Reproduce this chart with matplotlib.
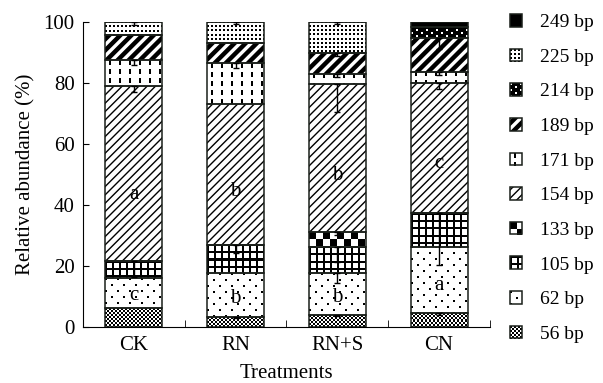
import numpy as np
import matplotlib.pyplot as plt
from matplotlib.patches import Rectangle, Patch
from matplotlib.colors import ListedColormap
from matplotlib.legend_handler import HandlerBase

plt.rcParams['font.family'] = ['Liberation Serif', 'DejaVu Serif']

treatments = ['CK', 'RN', 'RN+S', 'CN']
fragments = ['56 bp', '62 bp', '105 bp', '133 bp', '154 bp',
             '171 bp', '189 bp', '214 bp', '225 bp', '249 bp']

# relative abundance (%) per fragment, order: CK, RN, RN+S, CN
bp56 = [6.1, 3.2, 3.8, 4.3]
bp62 = [9.8, 14.3, 13.7, 21.9]
bp105 = [5.5, 9.3, 8.7, 11.0]
bp133 = [0.0, 0.0, 4.9, 0.0]
bp154 = [57.6, 46.2, 48.5, 42.7]
bp171 = [8.5, 13.4, 3.3, 3.8]
bp189 = [8.2, 6.6, 6.8, 10.9]
bp214 = [0.0, 0.0, 0.0, 3.8]
bp225 = [4.3, 7.0, 10.3, 0.0]
bp249 = [0.0, 0.0, 0.0, 1.6]
abundance = [bp56, bp62, bp105, bp133, bp154, bp171, bp189, bp214, bp225, bp249]

# error (drawn downward from top of each segment)
err56 = [0.0, 0.5, 0.5, 0.5]
err62 = [0.0, 0.0, 3.3, 0.0]
err105 = [5.0, 2.5, 5.0, 17.0]
err133 = [0.0, 0.0, 1.0, 0.0]
err154 = [2.0, 0.0, 9.0, 2.0]
err171 = [1.6, 1.6, 1.0, 1.0]
err189 = [0.0, 0.0, 1.0, 3.5]
err214 = [0.0, 0.0, 0.0, 0.0]
err225 = [1.0, 0.5, 0.5, 0.0]
err249 = [0.0, 0.0, 0.0, 0.0]
errors = [err56, err62, err105, err133, err154, err171, err189, err214, err225, err249]

letters154 = ['a', 'b', 'b', 'c']
letters62 = ['c', 'b', 'b', 'a']


# pixel tiles for the fill patterns (1 = black)
def checker(sq):
    return np.kron(np.array([[1, 0], [0, 1]]), np.ones((sq, sq), dtype=int))


dots62 = np.zeros((12, 12), dtype=int)
dots62[0:2, 0:2] = 1
dots62[6:8, 6:8] = 1

grid105 = np.zeros((7, 7), dtype=int)
grid105[0:2, :] = 1
grid105[:, 0:2] = 1

dash171 = np.zeros((9, 10), dtype=int)
dash171[0:5, 4:6] = 1

dots214 = np.ones((6, 10), dtype=int)
dots214[0:2, 0:2] = 0
dots214[3:5, 5:7] = 0

dots225 = np.zeros((4, 4), dtype=int)
dots225[0:2, 0:2] = 1

styles = [
    dict(kind='tile', tile=checker(2)),
    dict(kind='tile', tile=dots62),
    dict(kind='tile', tile=grid105),
    dict(kind='tile', tile=checker(7)),
    dict(kind='hatch', hatch='////', face='white', hc='black', hlw=1.0),
    dict(kind='tile', tile=dash171),
    dict(kind='hatch', hatch='///', face='white', hc='black', hlw=3.2),
    dict(kind='tile', tile=dots214),
    dict(kind='tile', tile=dots225),
    dict(kind='hatch', hatch='', face='black', hc='black', hlw=1.0),
]
edge = '#1a1f1a'
bw_cmap = ListedColormap(['white', 'black'])

fig = plt.figure(figsize=(6.03, 3.83), dpi=100)
ax = fig.add_axes([0.1376, 0.1475, 0.675, 0.7950])
ax.set_xlim(-0.5, 3.5)
ax.set_ylim(0, 100)

x = np.arange(len(treatments))
width = 0.56
bottom = np.zeros(len(treatments))


def tile_fill(tile, nrows, ncols):
    reps = (nrows // tile.shape[0] + 1, ncols // tile.shape[1] + 1)
    return np.tile(tile, reps)[:nrows, :ncols]


def draw_tile(rect, tile):
    x0, y0 = rect.get_x(), rect.get_y()
    w, h = rect.get_width(), rect.get_height()
    (px0, py0), (px1, py1) = ax.transData.transform([(x0, y0), (x0 + w, y0 + h)])
    nx = max(1, int(round(px1 - px0)))
    ny = max(1, int(round(py1 - py0)))
    ax.imshow(tile_fill(tile, ny, nx), cmap=bw_cmap, vmin=0, vmax=1,
              extent=(x0, x0 + w, y0, y0 + h), interpolation='nearest',
              aspect='auto', zorder=2)


for vals, errs, st in zip(abundance, errors, styles):
    vals = np.array(vals)
    errs = np.array(errs)
    if st['kind'] == 'tile':
        bars = ax.bar(x, vals, width, bottom=bottom, color='white', linewidth=0, zorder=1)
        for rect in bars:
            if rect.get_height() > 0:
                draw_tile(rect, st['tile'])
    else:
        bars = ax.bar(x, vals, width, bottom=bottom, facecolor=st['face'],
                      edgecolor=st['hc'], hatch=st['hatch'], linewidth=0, zorder=2)
        for rect in bars:
            rect.set_hatch_linewidth(st['hlw'])
    # outlines
    ax.bar(x, vals, width, bottom=bottom, fill=False, edgecolor=edge, linewidth=1.1, zorder=3)
    top = bottom + vals
    m = errs > 0
    ax.errorbar(x[m], top[m], yerr=[errs[m], np.zeros(m.sum())], fmt='none',
                ecolor='black', elinewidth=1.0, capsize=2.5, capthick=1.0, zorder=4)
    bottom = top

# significance letters
cum = np.cumsum(np.array(abundance), axis=0)
for i in range(len(treatments)):
    lo, hi = cum[3][i], cum[4][i]
    ax.text(x[i], lo + 0.38 * (hi - lo), letters154[i], ha='center', va='center', fontsize=15, zorder=5)
    lo, hi = cum[0][i], cum[1][i]
    ax.text(x[i], lo + 0.42 * (hi - lo), letters62[i], ha='center', va='center', fontsize=15, zorder=5)

ax.set_xlim(-0.5, 3.5)
ax.set_ylim(0, 100)
ax.spines['top'].set_visible(False)
ax.spines['right'].set_visible(False)
ax.set_yticks([0, 20, 40, 60, 80, 100])
ax.tick_params(axis='y', direction='in', length=4, labelsize=15, pad=6)
ax.set_xticks(x, treatments)
ax.tick_params(axis='x', which='major', length=0, labelsize=15, pad=7)
ax.set_xticks(x + 0.5, minor=True)
ax.tick_params(axis='x', which='minor', direction='in', length=5)
ax.set_xlabel('Treatments', fontsize=15, labelpad=6)
ax.set_ylabel('Relative abundance (%)', fontsize=15, labelpad=6)


class PatternHandler(HandlerBase):
    def __init__(self, st):
        super().__init__()
        self.st = st

    def create_artists(self, legend, orig_handle, xdescent, ydescent, width, height, fontsize, trans):
        st = self.st
        x0, y0 = -xdescent, -ydescent
        arts = []
        if st['kind'] == 'tile':
            px = 72.0 / fig.dpi
            nx = int(round(width / px))
            ny = int(round(height / px))
            pat = tile_fill(st['tile'], ny, nx)
            for r in range(ny):
                for c in range(nx):
                    if pat[r, c]:
                        arts.append(Rectangle((x0 + c * px, y0 + height - (r + 1) * px), px, px,
                                              facecolor='black', edgecolor='none', transform=trans))
        else:
            p = Rectangle((x0, y0), width, height, facecolor=st['face'], edgecolor=st['hc'],
                          hatch=st['hatch'], linewidth=0, transform=trans)
            p.set_hatch_linewidth(st['hlw'])
            arts.append(p)
        arts.append(Rectangle((x0, y0), width, height, fill=False, edgecolor=edge,
                              linewidth=1.1, transform=trans))
        return arts


handles = [Patch(label=f) for f in fragments]
hmap = {h: PatternHandler(st) for h, st in zip(handles, styles)}
fig.legend(handles[::-1], fragments[::-1], handler_map=hmap, loc='upper left',
           bbox_to_anchor=(0.8458, 0.9635), frameon=False, fontsize=14,
           handlelength=0.62, handleheight=0.62, handletextpad=0.9,
           labelspacing=0.90, borderpad=0, borderaxespad=0)

fig.savefig('out.png', dpi=100)
